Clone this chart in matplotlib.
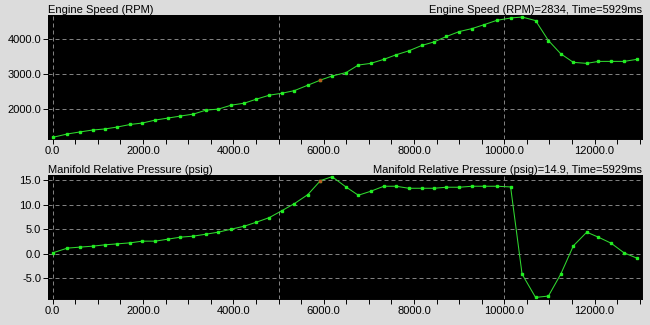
import matplotlib
matplotlib.use("Agg")
import matplotlib.pyplot as plt
from matplotlib.ticker import MultipleLocator, FormatStrFormatter

plt.rcParams['font.family'] = ['Liberation Sans', 'DejaVu Sans']

time_ms = [0, 324, 598, 886, 1152, 1432, 1720, 1985, 2273, 2554, 2826, 3114,
           3395, 3667, 3955, 4243, 4509, 4797, 5078, 5351, 5648, 5929, 6186, 6496,
           6768, 7043, 7331, 7603, 7885, 8173, 8445, 8718, 9006, 9287, 9560, 9834,
           10140, 10394, 10693, 10977, 11251, 11530, 11827, 12084, 12365, 12653, 12934]

rpm = [1189, 1286, 1343, 1400, 1429, 1486, 1560, 1600, 1686, 1743, 1800, 1857,
       1971, 2000, 2114, 2171, 2286, 2400, 2457, 2531, 2686, 2834, 2951, 3050,
       3266, 3314, 3429, 3560, 3674, 3829, 3931, 4086, 4229, 4314, 4429, 4550,
       4617, 4646, 4543, 3971, 3589, 3343, 3314, 3371, 3371, 3371, 3429]

psig = [0.2, 1.16, 1.36, 1.56, 1.83, 2.03, 2.24, 2.58, 2.58, 2.99, 3.39, 3.6,
        4.0, 4.41, 5.02, 5.63, 6.44, 7.38, 8.8, 10.22, 12.05, 14.9, 15.71, 13.6,
        11.93, 12.74, 13.76, 13.76, 13.35, 13.35, 13.35, 13.56, 13.56, 13.76, 13.76, 13.76,
        13.62, -4.13, -8.88, -8.6, -4.13, 1.63, 4.41, 3.39, 2.17, 0.2, -0.87]

cursor_index = 21
titles = ["Engine Speed (RPM)", "Manifold Relative Pressure (psig)"]
cursor_labels = ["Engine Speed (RPM)=2834, Time=5929ms",
                 "Manifold Relative Pressure (psig)=14.9, Time=5929ms"]
y_ticks = [[2000, 3000, 4000], [-5, 0, 5, 10, 15]]
y_limits = [(1150, 4695), (-9.2, 16.05)]
x_grid = [0, 5000, 10000]

bg = '#dcdcdc'
fig = plt.figure(figsize=(6.5, 3.25), dpi=100, facecolor=bg)
W, H = 650, 325
boxes = [(48, 15.3, 642, 138.7), (48, 175, 642, 299)]
series = [rpm, psig]

for i, (x0, y0, x1, y1) in enumerate(boxes):
    ax = fig.add_axes([x0 / W, 1 - y1 / H, (x1 - x0) / W, (y1 - y0) / H])
    ax.set_facecolor('black')
    for s in ax.spines.values():
        s.set_color('black')
        s.set_linewidth(0.7)
    ax.set_xlim(-105, 13050)
    ax.set_ylim(*y_limits[i])
    ax.set_yticks(y_ticks[i])
    ax.yaxis.set_major_formatter(FormatStrFormatter('%.1f'))
    ax.xaxis.set_major_locator(MultipleLocator(2000))
    ax.xaxis.set_minor_locator(MultipleLocator(500))
    ax.xaxis.set_major_formatter(FormatStrFormatter('%.1f'))
    ax.tick_params(axis='both', which='both', direction='out', length=3.5,
                   width=0.7, color='black', labelsize=8, pad=1.5)
    for yv in y_ticks[i]:
        ax.axhline(yv, color='#808080', lw=0.72, ls=(0, (4, 3)), zorder=1)
    for xv in x_grid:
        ax.axvline(xv, color='#808080', lw=0.72, ls=(0, (4, 3)), zorder=1)
    ax.plot(time_ms, series[i], color='#30d830', lw=0.75, marker='s',
            markersize=2.0, markerfacecolor='#22ee22', markeredgecolor='#22ee22',
            zorder=3)
    ax.plot([time_ms[cursor_index]], [series[i][cursor_index]], marker='s',
            markersize=2.0, color='#b85a20', ls='none', zorder=4)
    ax.set_title(titles[i], loc='left', fontsize=8, pad=1.5)
    ax.set_title(cursor_labels[i], loc='right', fontsize=8, pad=1.5)

fig.savefig('out.png', dpi=100, facecolor=bg)
